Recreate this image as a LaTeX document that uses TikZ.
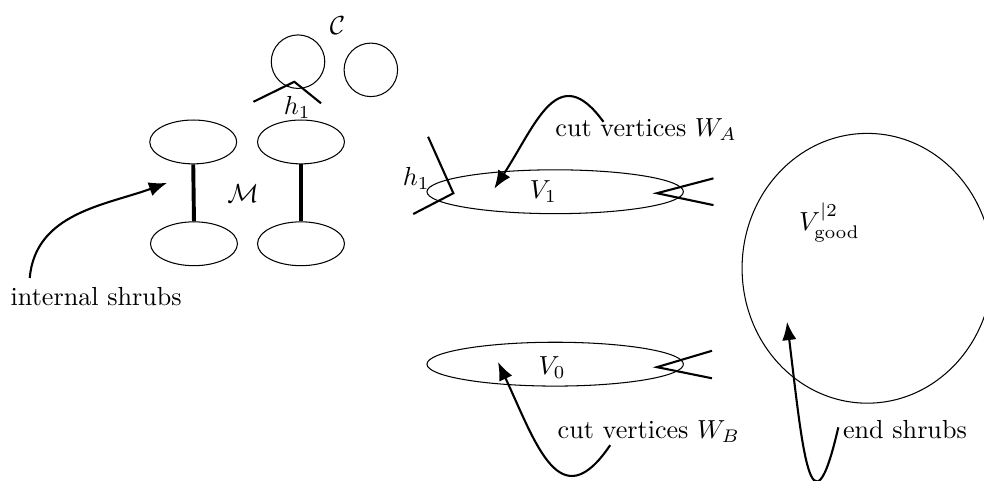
\documentclass[tikz,border=0pt]{standalone}
\usepackage{amsmath}
\usepackage{tikz}
\usetikzlibrary{shapes,arrows.meta,calc}
\tikzset{fig/.style={
    draw,
    thin}}
\tikzset{partie/.style={
    fig,
    ellipse,
    minimum width=1.17cm,
    minimum height=0.59cm}}
\tikzset{classe/.style={
    fig,
    ellipse,
    minimum width=3.45cm,
    minimum height=0.59cm}}
\tikzset{rayon/.style={
    -{Latex[length=7pt,width=5.5pt]},
    draw,
    thick}}
\tikzset{demi/.style={
    thick}}
\tikzset{arbre/.style={
    line width=1.5pt}}

\begin{document}
\begin{tikzpicture}
  \useasboundingbox (0,0) rectangle (13.24,6.47);
  \coordinate (C1) at (4.01,5.64);
\coordinate (C2) at (4.99,5.53);
\coordinate (M1) at (2.60,4.56);
\coordinate (M2) at (4.05,4.56);
\coordinate (M3) at (2.61,3.19);
\coordinate (M4) at (4.05,3.19);
\coordinate (V1) at (7.47,3.89);
\coordinate (V0) at (7.47,1.57);
\coordinate (VG) at (11.67,2.86);

\node[fig,
  circle,
  minimum size=0.72cm] (c1) at (C1) {};

\node[fig,
  circle,
  minimum size=0.72cm] (c2) at (C2) {};

\node[partie] (m1) at (M1) {};
\node[partie] (m2) at (M2) {};
\node[partie] (m3) at (M3) {};
\node[partie] (m4) at (M4) {};

\node[classe] (v1) at (V1) {};
\node[classe] (v0) at (V0) {};

\node[fig,
  ellipse,
  minimum width=3.37cm,
  minimum height=3.63cm] (vg) at (VG) {};

  \draw[arbre] (m1.south) -- (m3.north);
  \draw[arbre] (m2.south) -- (m4.north);

  % demi-aretes
  \draw[demi] (3.41,5.10) -- (3.96,5.37) -- (4.32,5.08);
  \draw[demi] (5.76,4.63) -- (6.10,3.87) -- (5.56,3.59);
  \draw[demi] (9.60,4.07) -- (8.84,3.87) -- (9.60,3.71);
  \draw[demi] (9.58,1.75) -- (8.84,1.53) -- (9.58,1.38);

  \node (lc) at (4.54,6.13) {$\mathcal{C}$};
  \node (lh) at (4.00,5.03) {$h_1$};
  \node (lm) at (3.27,3.87) {$\mathcal{M}$};
  \node (lh2) at (5.60,4.07) {$h_1$};
  \node (lv1) at (7.31,3.89) {$V_1$};
  \node (lv0) at (7.43,1.53) {$V_0$};
  \node (lvg) at (11.16,3.48) {$V^{|2}_{\mathrm{good}}$};

  \node[anchor=base west] (li) at (0.02,2.36) {internal shrubs};
  \node[anchor=base west] (la) at (7.35,4.63) {cut vertices $W_A$};
  \node[anchor=base west] (lb) at (7.38,0.57) {cut vertices $W_B$};
  \node[anchor=base west] (le) at (11.22,0.57) {end shrubs};

  \coordinate (dI) at (0.40,2.73);
\coordinate (pI) at (2.25,4.01);
\coordinate (dA) at (8.12,4.83);
\coordinate (pA) at (6.65,3.93);
\coordinate (dB) at (8.21,0.48);
\coordinate (pB) at (6.70,1.60);
\coordinate (dE) at (11.28,0.72);
\coordinate (pE) at (10.59,2.14);

  \path[rayon] (dI) to[out=85,in=200] (pI);
  \path[rayon] (dA) to[out=126,in=57,looseness=1.55] (pA);
  \path[rayon] (dB) to[out=236,in=295,looseness=1.65] (pB);
  \path[rayon] (dE) to[out=257,in=277,looseness=2.7] (pE);
\end{tikzpicture}
\end{document}
